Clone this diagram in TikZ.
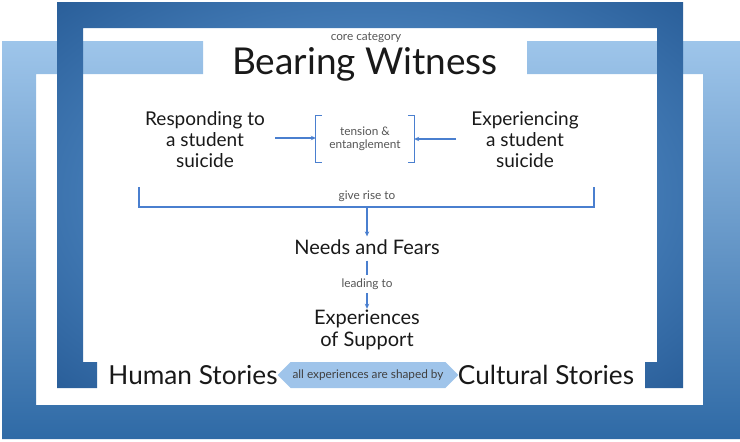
\documentclass[tikz,border=0pt]{standalone}
\usepackage{fontspec}
\setmainfont{Lato}
\usetikzlibrary{arrows.meta,shapes.symbols}
\definecolor{barlight}{HTML}{9EC5EA}
\definecolor{bardark}{HTML}{2F6AA6}
\definecolor{framemid}{HTML}{6AA6E0}
\definecolor{framedark}{HTML}{2A5F9A}
\definecolor{linkblue}{HTML}{4A7FCF}
\definecolor{tagfill}{HTML}{9FC4EA}
\definecolor{labelgray}{HTML}{555555}
\begin{document}
\begin{tikzpicture}[x=1pt,y=-1pt]
  \tikzset{
    big text/.style={font=\fontsize{19}{21}\selectfont, align=center, text=black!90, inner sep=1pt},
    small label/.style={font=\fontsize{11.8}{13.5}\selectfont, align=center, text=labelgray, inner sep=1pt},
    link/.style={draw=linkblue, line width=1.2pt, -{Stealth[length=5pt,width=4.5pt]}},
    bracket/.style={draw=linkblue, line width=1.3pt}
  }
  \useasboundingbox (0,0) rectangle (740,442);
  % wide frame behind
  \shade[top color=barlight, bottom color=bardark]
    (203,41) -- (2,41) -- (2,439) -- (740,439) -- (740,41) -- (527,41) -- (527,74)
    -- (703,74) -- (703,405) -- (36,405) -- (36,74) -- (203,74) -- cycle;
  % tall frame in front
  \begin{scope}
    \clip (57,2) -- (683,2) -- (683,388) -- (645,388) -- (645,362) -- (657,362) -- (657,28)
      -- (83,28) -- (83,362) -- (97,362) -- (97,388) -- (57,388) -- cycle;
    \shade[inner color=framemid, outer color=framedark] (-72,-78) rectangle (812,468);
  \end{scope}
  % core category
  \node[small label] (core) at (366,38) {core category};
  \node[font=\fontsize{37}{42}\selectfont, text=black!90] (title) at (365,64) {Bearing Witness};
  % the two sides
  \node[big text] (resp) at (205,140) {Responding to\\a student\\suicide};
  \node[big text] (exper) at (525,140) {Experiencing\\a student\\suicide};
  \node[small label, minimum width=98pt, minimum height=47pt] (tens) at (365,139) {tension \&\\entanglement};
  \draw[bracket] ([xshift=6pt]tens.north west) -- (tens.north west) -- (tens.south west) -- ++(6,0);
  \draw[bracket] ([xshift=-6pt]tens.north east) -- (tens.north east) -- (tens.south east) -- ++(-6,0);
  \coordinate (respend) at (275,138);
  \coordinate (experend) at (456,139);
  \draw[link] (respend) -- (tens.west |- respend);
  \draw[link] (experend) -- (tens.east |- experend);
  % give rise to
  \coordinate (bl) at (139,187);
  \coordinate (br) at (594,187);
  \coordinate (fork) at (367,207);
  \draw[bracket] (bl) |- (fork) -| (br);
  \node[small label] (rise) at (367,196) {give rise to};
  \node[big text, font=\fontsize{20}{22}\selectfont, inner sep=3pt] (needs) at (367,247) {Needs and Fears};
  \draw[link] (fork) -- (needs.north);
  % leading to
  \node[big text, font=\fontsize{20}{22}\selectfont, inner sep=1pt] (support) at (367,330) {Experiences\\of Support};
  \node[small label, fill=white, inner sep=4pt] (lead) at (367,284) {leading to};
  \draw[link] ([yshift=-3pt]needs.south) -- (support.north);
  \node[small label, fill=white, inner sep=4pt] at (lead) {leading to};
  % stories
  \node[font=\fontsize{26.2}{30}\selectfont, text=black!90] (human) at (193,375) {Human Stories};
  \node[font=\fontsize{26.2}{30}\selectfont, text=black!90] (cultural) at (546,375) {Cultural Stories};
  \node[signal, signal to=east and west, fill=tagfill, minimum width=170pt, minimum height=26pt,
    inner sep=2pt, font=\fontsize{11.8}{13}\selectfont, text=black!75] (shaped) at (368,375) {all experiences are shaped by};
\end{tikzpicture}
\end{document}
